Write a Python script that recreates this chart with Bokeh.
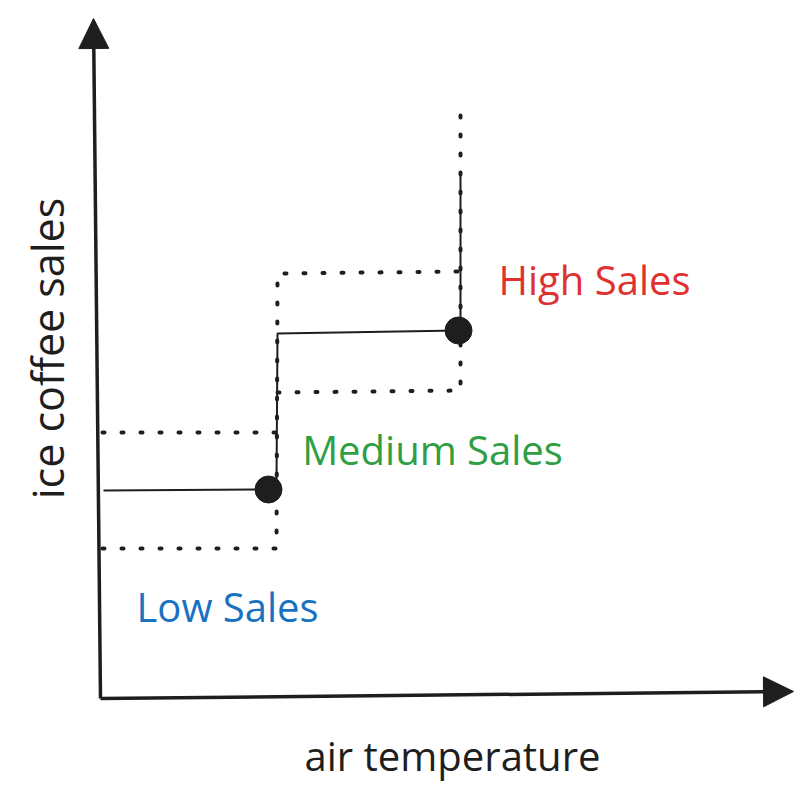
from bokeh.plotting import figure
from bokeh.models import Range1d, Arrow, NormalHead, ColumnDataSource
from bokeh.core.properties import value
from bokeh.embed import file_html
from bokeh.resources import INLINE
import math

# ---- data (conceptual units: air temperature vs ice coffee sales) ----
# solid step curve
step_x = [3, 168, 176, 177, 358, 360, 360]
step_y = [208, 209, 215, 365, 368, 372, 526]
# observation points
point_x = [168, 358]
point_y = [209, 368]
# dotted band boundaries
low_top_x = [2, 175]
low_top_y = [266, 266]
band_path_x = [2, 176, 177, 360]
band_path_y = [150, 150, 425, 427]
high_path_x = [360, 360, 177]
high_path_y = [583, 308, 306]
# axes (origin and arrow tips)
axis_origin = (0, 0)
y_axis_tip = (-7, 680)
x_axis_tip = (693, 7)
# category labels
label_text = ["Low Sales", "Medium Sales", "High Sales"]
label_x = [127, 332, 494]
label_y = [92, 249, 419]
label_color = ["#1971c2", "#2f9e44", "#e03131"]
x_title = "air temperature"
y_title = "ice coffee sales"

INK = "#1e1e1e"
FONT = value("Open Sans")

p = figure(width=795, height=787, output_backend="svg", toolbar_location=None,
           x_range=Range1d(-100, 695), y_range=Range1d(-89, 698),
           min_border=0, min_border_left=0, min_border_right=0,
           min_border_top=0, min_border_bottom=0)
p.axis.visible = False
p.grid.visible = False
p.outline_line_color = None
p.background_fill_color = "white"
p.border_fill_color = "white"

# axes with arrows
p.add_layout(Arrow(x_start=axis_origin[0], y_start=axis_origin[1],
                   x_end=y_axis_tip[0], y_end=y_axis_tip[1],
                   line_color=INK, line_width=3.5,
                   end=NormalHead(size=30, fill_color=INK, line_color=INK, line_width=1)))
p.add_layout(Arrow(x_start=axis_origin[0], y_start=axis_origin[1],
                   x_end=x_axis_tip[0], y_end=x_axis_tip[1],
                   line_color=INK, line_width=3.5,
                   end=NormalHead(size=30, fill_color=INK, line_color=INK, line_width=1)))

# dotted bands
for xs, ys in [(low_top_x, low_top_y), (band_path_x, band_path_y), (high_path_x, high_path_y)]:
    p.line(xs, ys, line_color=INK, line_width=4, line_dash="2 17",
           line_cap="round", line_join="round")

# solid step
p.line(step_x, step_y, line_color=INK, line_width=2)
p.scatter(point_x, point_y, size=27, fill_color=INK, line_color=INK)

# labels
src = ColumnDataSource(dict(x=label_x, y=label_y, text=label_text, color=label_color))
p.text(x="x", y="y", text="text", text_color="color", source=src,
       text_font=FONT, text_font_size="40px", text_align="center",
       text_baseline="alphabetic")

p.text(x=[352], y=[-57], text=[x_title], text_color=INK, text_font=FONT,
       text_font_size="40px", text_align="center", text_baseline="alphabetic")
p.text(x=[-53], y=[350], text=[y_title], text_color=INK, text_font=FONT,
       text_font_size="43px", text_align="center", text_baseline="middle",
       angle=math.pi / 2)

open("out.html", "w").write(file_html(p, INLINE))
